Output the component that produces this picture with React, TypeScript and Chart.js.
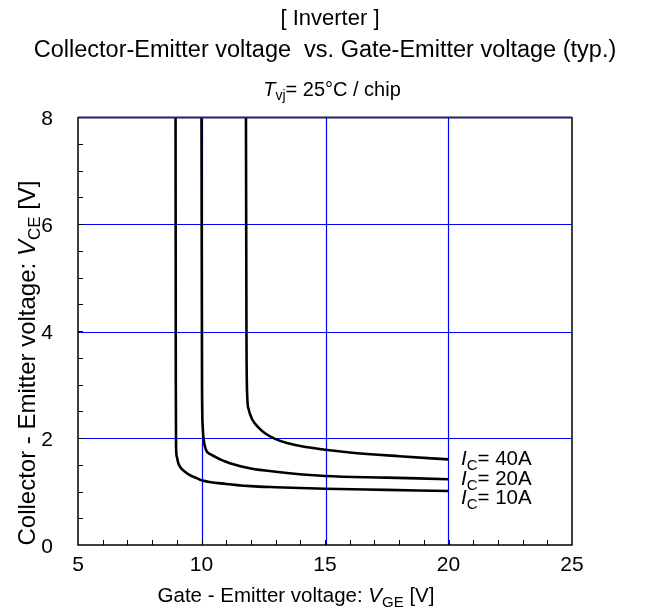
import React, { useEffect, useRef } from 'react';
import { Chart, registerables } from 'chart.js';

Chart.register(...registerables);

// ---- Data ----
const vge10 = [8.95, 8.96, 8.97, 9.0, 9.06, 9.15, 9.33, 9.55, 9.8, 10.0, 11.0, 12.0, 13.0, 15.0, 17.5, 20.0];
const vce10 = [8.0, 3.0, 1.84, 1.65, 1.53, 1.45, 1.37, 1.3, 1.25, 1.21, 1.14, 1.1, 1.08, 1.05, 1.03, 1.01];

const vge20 = [10.0, 10.02, 10.05, 10.08, 10.18, 10.35, 10.55, 10.8, 11.15, 12.0, 13.0, 15.0, 17.5, 20.0];
const vce20 = [8.0, 3.0, 2.2, 2.0, 1.78, 1.7, 1.65, 1.59, 1.53, 1.43, 1.37, 1.29, 1.26, 1.23];

const vge40 = [11.8, 11.82, 11.85, 11.9, 12.05, 12.3, 12.6, 13.0, 13.5, 14.0, 15.0, 16.0, 18.0, 20.0];
const vce40 = [8.0, 4.0, 2.8, 2.55, 2.35, 2.2, 2.08, 1.98, 1.9, 1.85, 1.78, 1.73, 1.66, 1.6];

const seriesLabels = ['10A', '20A', '40A'];
const xTickLabels = [5, 10, 15, 20, 25];
const yTickLabels = [0, 2, 4, 6, 8];
const xGridValues = [10, 15, 20];
const yGridValues = [2, 4, 6];
const xMinorStep = 1;
const yMinorStep = 0.5;

const FAM = '"Liberation Sans", Arial, Helvetica, sans-serif';
const BLUE = 'rgb(0,0,255)';

type Part = { t: string; i?: boolean; s?: boolean };

function drawRich(ctx: CanvasRenderingContext2D, parts: Part[], x: number, y: number, size: number, align: 'center' | 'left' | 'right') {
  const fontFor = (p: Part) => `${p.i ? 'italic ' : ''}${p.s ? Math.round(size * 0.72) : size}px ${FAM}`;
  let total = 0;
  const widths = parts.map((p) => {
    ctx.font = fontFor(p);
    const w = ctx.measureText(p.t).width;
    total += w;
    return w;
  });
  ctx.save();
  ctx.translate(x, y);
  let cx = align === 'center' ? -total / 2 : align === 'right' ? -total : 0;
  ctx.textAlign = 'left';
  ctx.textBaseline = 'alphabetic';
  ctx.fillStyle = '#000';
  parts.forEach((p, k) => {
    ctx.font = fontFor(p);
    ctx.fillText(p.t, cx, p.s ? size * 0.22 : 0);
    cx += widths[k];
  });
  ctx.restore();
}

// align a 1px line onto an even pixel column/row
const even = (p: number) => 2 * Math.round(p / 2) + 0.5;

const gridPlugin = {
  id: 'bluegrid',
  beforeDatasetsDraw(chart: any) {
    const ctx: CanvasRenderingContext2D = chart.ctx;
    const { left, right, top, bottom } = chart.chartArea;
    const xs = chart.scales.x;
    const ys = chart.scales.y;
    ctx.save();
    ctx.strokeStyle = BLUE;
    ctx.lineWidth = 1.2;
    ctx.beginPath();
    xGridValues.forEach((v) => {
      const px = even(xs.getPixelForValue(v));
      ctx.moveTo(px, top);
      ctx.lineTo(px, bottom);
    });
    yGridValues.forEach((v) => {
      const py = even(ys.getPixelForValue(v));
      ctx.moveTo(left, py);
      ctx.lineTo(right, py);
    });
    ctx.stroke();
    ctx.restore();
  },
};

const decorPlugin = {
  id: 'decor',
  afterDraw(chart: any) {
    const ctx: CanvasRenderingContext2D = chart.ctx;
    const { left, right, top, bottom } = chart.chartArea;
    const xs = chart.scales.x;
    const ys = chart.scales.y;
    ctx.save();
    // border (left, bottom, right)
    ctx.strokeStyle = '#000';
    ctx.lineWidth = 1.5;
    ctx.beginPath();
    ctx.moveTo(left, top);
    ctx.lineTo(left, bottom);
    ctx.lineTo(right, bottom);
    ctx.lineTo(right, top);
    ctx.stroke();
    // top edge: black frame overlaid with the blue 8 V grid line
    ctx.strokeStyle = '#20206e';
    ctx.lineWidth = 2;
    ctx.beginPath();
    ctx.moveTo(left, top + 0.5);
    ctx.lineTo(right, top + 0.5);
    ctx.stroke();
    // minor ticks
    ctx.strokeStyle = '#000';
    ctx.lineWidth = 1;
    ctx.beginPath();
    for (let v = xs.min + xMinorStep; v < xs.max; v += xMinorStep) {
      const px = Math.round(xs.getPixelForValue(v)) + 0.5;
      ctx.moveTo(px, bottom);
      ctx.lineTo(px, bottom - 5);
    }
    for (let v = ys.min + yMinorStep; v < ys.max; v += yMinorStep) {
      const py = Math.round(ys.getPixelForValue(v)) + 0.5;
      ctx.moveTo(left, py);
      ctx.lineTo(left + 5, py);
    }
    ctx.stroke();

    // tick labels
    xTickLabels.forEach((v) => {
      drawRich(ctx, [{ t: String(v) }], xs.getPixelForValue(v), 571, 21, 'center');
    });
    yTickLabels.forEach((v) => {
      drawRich(ctx, [{ t: String(v) }], 53, ys.getPixelForValue(v) + 7.5, 21, 'right');
    });

    // titles
    drawRich(ctx, [{ t: '[ Inverter ]' }], 330, 25, 22, 'center');
    drawRich(ctx, [{ t: 'Collector-Emitter voltage  vs. Gate-Emitter voltage (typ.)' }], 325, 57, 23.5, 'center');
    drawRich(ctx, [{ t: 'T', i: true }, { t: 'vj', s: true }, { t: '= 25°C / chip' }], 332, 96, 20, 'center');

    // axis titles
    drawRich(ctx, [{ t: 'Gate - Emitter voltage: ' }, { t: 'V', i: true }, { t: 'GE', s: true }, { t: ' [V]' }], 296, 602, 20.5, 'center');
    ctx.save();
    ctx.translate(35, 363);
    ctx.rotate(-Math.PI / 2);
    drawRich(ctx, [{ t: 'Collector - Emitter voltage: ' }, { t: 'V', i: true }, { t: 'CE', s: true }, { t: ' [V]' }], 0, 0, 24, 'center');
    ctx.restore();

    // curve labels
    const lblY = [504, 485, 465];
    seriesLabels.forEach((s, k) => {
      drawRich(ctx, [{ t: 'I', i: true }, { t: 'C', s: true }, { t: '= ' + s }], 461, lblY[k], 20.5, 'left');
    });
    ctx.restore();
  },
};

export default function App() {
  const ref = useRef<HTMLCanvasElement | null>(null);
  useEffect(() => {
    if (!ref.current) return;
    const mk = (xs: number[], ys: number[]) => xs.map((x, i) => ({ x, y: ys[i] }));
    const ds = (label: string, data: any[]) => ({
      label,
      data,
      borderColor: '#000',
      borderWidth: 2.6,
      pointRadius: 0,
      fill: false,
      showLine: true,
      cubicInterpolationMode: 'monotone' as const,
    });
    const chart = new Chart(ref.current, {
      type: 'line',
      data: {
        datasets: [
          ds('IC=10A', mk(vge10, vce10)),
          ds('IC=20A', mk(vge20, vce20)),
          ds('IC=40A', mk(vge40, vce40)),
        ],
      },
      options: {
        animation: false,
        responsive: false,
        devicePixelRatio: 1,
        layout: { padding: { top: 117, right: 88, left: 0, bottom: 0 } },
        plugins: { legend: { display: false }, title: { display: false }, tooltip: { enabled: false } },
        scales: {
          x: {
            type: 'linear',
            min: 5,
            max: 25,
            ticks: { display: false, stepSize: 5 },
            border: { display: false },
            grid: { display: false },
            afterFit: (s: any) => { s.height = 66; },
          },
          y: {
            type: 'linear',
            min: 0,
            max: 8,
            ticks: { display: false, stepSize: 2 },
            border: { display: false },
            grid: { display: false },
            afterFit: (s: any) => { s.width = 78; },
          },
        },
      },
      plugins: [gridPlugin, decorPlugin],
    });
    return () => chart.destroy();
  }, []);
  return (
    <div style={{ position: 'absolute', left: 0, top: 0, width: 660, height: 611, background: '#fff' }}>
      <canvas ref={ref} width={660} height={611} style={{ width: 660, height: 611 }} />
    </div>
  );
}
